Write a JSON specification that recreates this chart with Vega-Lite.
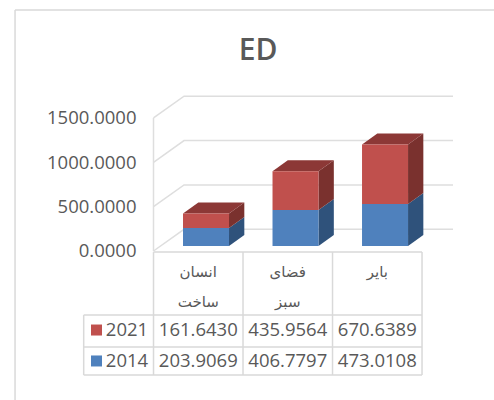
{
"$schema":"https://vega.github.io/schema/vega-lite/v6.json",
"width":494,"height":400,"padding":0,"autosize":"none",
"background":"white",
"config":{"view":{"stroke":null},"font":"Open Sans"},
"title":{"text":"ED","anchor":"middle","frame":"group","offset":0,"dy":66,"dx":11,"fontSize":30,"fontWeight":600,"color":"#595959","font":"Open Sans"},
"data":{"values":[
{"cat":"انسان ساخت","year":"2014","value":203.9069},
{"cat":"فضای سبز","year":"2014","value":406.7797},
{"cat":"بایر","year":"2014","value":473.0108},
{"cat":"انسان ساخت","year":"2021","value":161.6430},
{"cat":"فضای سبز","year":"2021","value":435.9564},
{"cat":"بایر","year":"2021","value":670.6389}
]},
"transform":[
{"stack":"value","groupby":["cat"],"sort":[{"field":"year","order":"ascending"}],"as":["y0","y1"]},
{"calculate":"indexof(['انسان ساخت','فضای سبز','بایر'],datum.cat)","as":"slot"},
{"calculate":"datum.slot+0.3296","as":"xL"},
{"calculate":"datum.slot+0.8436","as":"xR"},
{"calculate":"datum.slot+0.5","as":"xM"},
{"calculate":"datum.y0+56","as":"yA"},
{"calculate":"datum.y1+56","as":"yB"},
{"calculate":"[0,1]","as":"corner"},
{"flatten":["corner"]},
{"calculate":"datum.xR+datum.corner*0.171","as":"sideX"},
{"calculate":"datum.yA+datum.corner*124","as":"sideA"},
{"calculate":"datum.yB+datum.corner*124","as":"sideB"},
{"calculate":"datum.xL+datum.corner*0.171","as":"topL"},
{"calculate":"datum.xR+datum.corner*0.171","as":"topR"}
],
"layer":[
{"data":{"values":[{"v":0},{"v":500},{"v":1000},{"v":1500}]},
 "transform":[{"calculate":"[0,1,2]","as":"p"},{"flatten":["p"]},
  {"calculate":"[0,0.341,3.346][datum.p]","as":"gx"},
  {"calculate":"datum.v+(datum.p>0?245:0)","as":"gy"}],
 "mark":{"type":"line","stroke":"#dedede","strokeWidth":1.5},
 "encoding":{
  "x":{"field":"gx","type":"quantitative","scale":{"domain":[-1.715,3.804],"nice":false,"zero":false},"axis":null},
  "y":{"field":"gy","type":"quantitative","scale":{"domain":[-1680,2830],"nice":false,"zero":false},
   "axis":{"values":[0,500,1000,1500],"format":".4f","orient":"left","offset":-153,"domain":false,"ticks":false,"grid":false,"labelPadding":17,"labelFontSize":18.5,"labelColor":"#595959","labelFont":"Open Sans","title":null}},
  "detail":{"field":"v"}}},
{"data":{"values":[{}]},"mark":{"type":"rule","stroke":"#dedede","strokeWidth":1.5},
 "encoding":{"x":{"datum":0},"y":{"datum":0},"y2":{"datum":1500}}},
{"data":{"values":[{}]},"mark":{"type":"rule","stroke":"#d9d9d9","strokeWidth":1.5},
 "encoding":{"x":{"datum":-1.547},"y":{"datum":2717},"y2":{"datum":-1680}}},
{"data":{"values":[{}]},"mark":{"type":"rule","stroke":"#d9d9d9","strokeWidth":1.5},
 "encoding":{"x":{"datum":-1.547},"x2":{"datum":3.804},"y":{"datum":2717}}},
{"data":{"values":[{}]},"mark":{"type":"rule","stroke":"#d9d9d9","strokeWidth":1.5},
 "encoding":{"x":{"datum":0},"x2":{"datum":3},"y":{"datum":-12}}},
{"data":{"values":[{}]},"mark":{"type":"rule","stroke":"#d9d9d9","strokeWidth":1.5},
 "encoding":{"x":{"datum":-0.78},"x2":{"datum":3},"y":{"datum":-722}}},
{"data":{"values":[{}]},"mark":{"type":"rule","stroke":"#d9d9d9","strokeWidth":1.5},
 "encoding":{"x":{"datum":-0.78},"x2":{"datum":3},"y":{"datum":-1082}}},
{"data":{"values":[{}]},"mark":{"type":"rule","stroke":"#d9d9d9","strokeWidth":1.5},
 "encoding":{"x":{"datum":-0.78},"x2":{"datum":3},"y":{"datum":-1398}}},
{"data":{"values":[{}]},"mark":{"type":"rule","stroke":"#d9d9d9","strokeWidth":1.5},
 "encoding":{"x":{"datum":-0.78},"y":{"datum":-722},"y2":{"datum":-1398}}},
{"data":{"values":[{}]},"mark":{"type":"rule","stroke":"#d9d9d9","strokeWidth":1.5},
 "encoding":{"x":{"datum":0},"y":{"datum":-12},"y2":{"datum":-1398}}},
{"data":{"values":[{}]},"mark":{"type":"rule","stroke":"#d9d9d9","strokeWidth":1.5},
 "encoding":{"x":{"datum":1},"y":{"datum":-12},"y2":{"datum":-1398}}},
{"data":{"values":[{}]},"mark":{"type":"rule","stroke":"#d9d9d9","strokeWidth":1.5},
 "encoding":{"x":{"datum":2},"y":{"datum":-12},"y2":{"datum":-1398}}},
{"data":{"values":[{}]},"mark":{"type":"rule","stroke":"#d9d9d9","strokeWidth":1.5},
 "encoding":{"x":{"datum":3},"y":{"datum":-12},"y2":{"datum":-1398}}},
{"mark":{"type":"area"},
 "encoding":{
  "x":{"field":"sideX","type":"quantitative"},
  "y":{"field":"sideA","type":"quantitative"},
  "y2":{"field":"sideB"},
  "fill":{"field":"year","type":"nominal","scale":{"domain":["2014","2021"],"range":["#2f527b","#7a312e"]},"legend":null},
  "detail":{"field":"cat"}}},
{"transform":[{"filter":"datum.year=='2021'"}],
 "mark":{"type":"area","orient":"horizontal","fill":"#8c3836"},
 "encoding":{
  "y":{"field":"sideB","type":"quantitative"},
  "x":{"field":"topL","type":"quantitative"},
  "x2":{"field":"topR"},
  "detail":{"field":"cat"}}},
{"transform":[{"filter":"datum.corner==0"}],
 "mark":{"type":"rect"},
 "encoding":{
  "x":{"field":"xL","type":"quantitative"},"x2":{"field":"xR"},
  "y":{"field":"yA","type":"quantitative"},"y2":{"field":"yB"},
  "color":{"field":"year","type":"nominal","scale":{"domain":["2014","2021"],"range":["#4f81bd","#c0504d"]},"legend":null}}},
{"transform":[{"filter":"datum.corner==0 && datum.year=='2021'"}],
 "mark":{"type":"text","fontSize":18.5,"color":"#595959","font":"Open Sans"},
 "encoding":{"x":{"field":"xM","type":"quantitative"},"y":{"datum":-891},"text":{"field":"value","type":"quantitative","format":".4f"}}},
{"transform":[{"filter":"datum.corner==0 && datum.year=='2014'"}],
 "mark":{"type":"text","fontSize":18.5,"color":"#595959","font":"Open Sans"},
 "encoding":{"x":{"field":"xM","type":"quantitative"},"y":{"datum":-1240},"text":{"field":"value","type":"quantitative","format":".4f"}}},
{"transform":[{"filter":"datum.corner==0 && datum.year=='2014'"}],
 "mark":{"type":"text","fontSize":15,"color":"#595959","font":"DejaVu Sans","baseline":"top","lineBreak":" ","lineHeight":30},
 "encoding":{"x":{"field":"xM","type":"quantitative"},"y":{"datum":-153},"text":{"field":"cat"}}},
{"transform":[{"filter":"datum.corner==0 && datum.slot==0 && datum.year=='2021'"}],
 "mark":{"type":"text","fontSize":18.5,"color":"#595959","font":"Open Sans","align":"right"},
 "encoding":{"x":{"datum":-0.06},"y":{"datum":-891},"text":{"field":"year"}}},
{"transform":[{"filter":"datum.corner==0 && datum.slot==0 && datum.year=='2014'"}],
 "mark":{"type":"text","fontSize":18.5,"color":"#595959","font":"Open Sans","align":"right"},
 "encoding":{"x":{"datum":-0.06},"y":{"datum":-1240},"text":{"field":"year"}}},
{"transform":[{"filter":"datum.corner==0 && datum.slot==0 && datum.year=='2021'"}],
 "mark":{"type":"point","shape":"square","filled":true,"size":121,"opacity":1,"color":"#c0504d"},
 "encoding":{"x":{"datum":-0.637},"y":{"datum":-891}}},
{"transform":[{"filter":"datum.corner==0 && datum.slot==0 && datum.year=='2014'"}],
 "mark":{"type":"point","shape":"square","filled":true,"size":121,"opacity":1,"color":"#4f81bd"},
 "encoding":{"x":{"datum":-0.637},"y":{"datum":-1240}}}
]
}
